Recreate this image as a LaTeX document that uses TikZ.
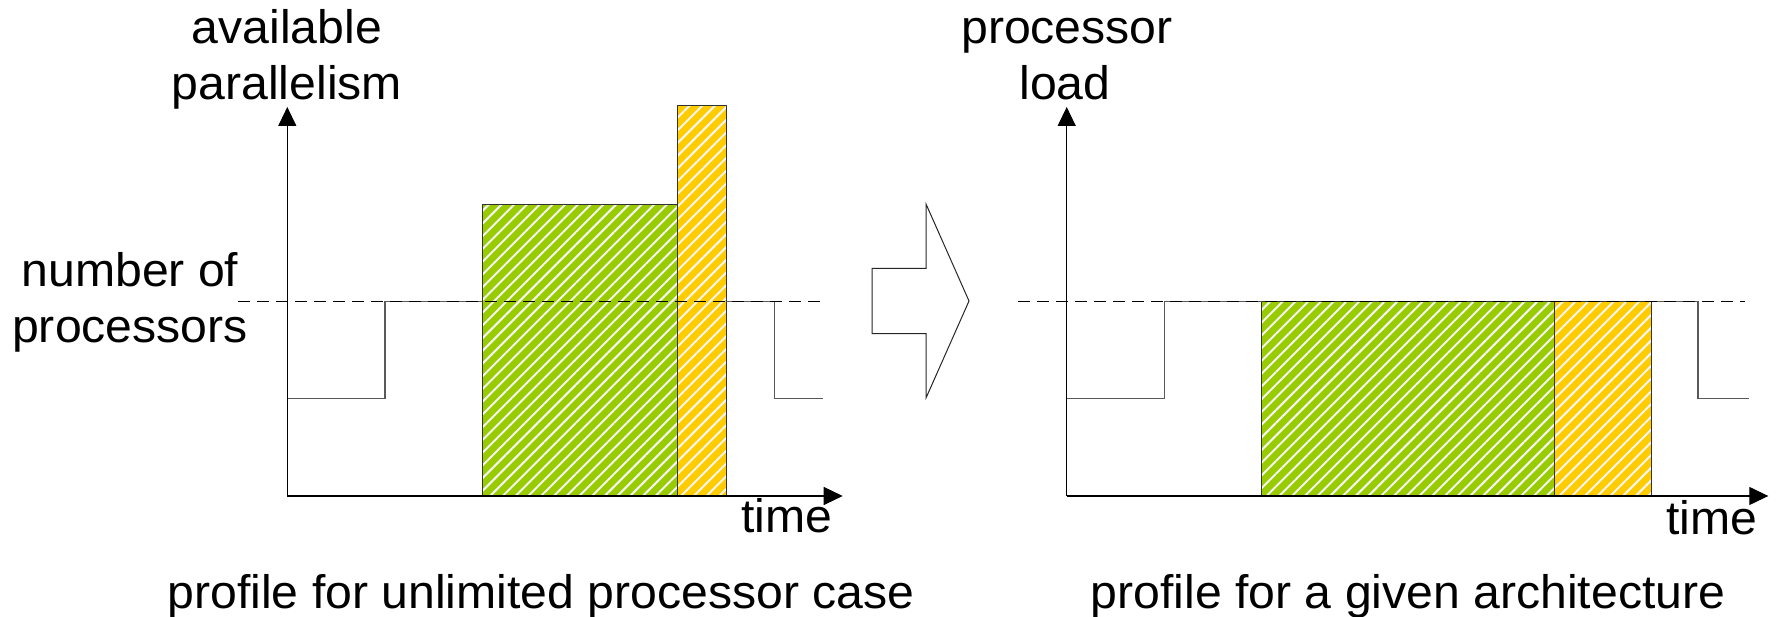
\documentclass[tikz,border=0pt]{standalone}
\usepackage{fontspec}
\setmainfont[FakeStretch=1.025]{Liberation Sans}
\usetikzlibrary{arrows.meta,patterns.meta}
\definecolor{hgreen}{HTML}{99CC00}
\definecolor{horange}{HTML}{FFCC00}
\newcommand\hatchrect[3]{%
  \fill[#1] #2 rectangle #3;
  \fill[hatch] #2 rectangle #3;
  \draw[box] #2 rectangle #3;}
\begin{document}
\begin{tikzpicture}[x=1pt,y=1pt,
  lbl/.style={font=\fontsize{47}{56}\selectfont, inner sep=0pt, anchor=base},
  axis/.style={line width=1.3pt, draw=black, -{Triangle[length=19pt,width=18pt]}},
  stepline/.style={line width=1.3pt, draw=black!65},
  limit/.style={line width=1pt, draw=black, dash pattern=on 12pt off 7pt},
  box/.style={draw=black!80, line width=1pt},
  hatch/.style={pattern={Lines[angle=45,distance=9pt,line width=2pt]}, pattern color=white!92!gray}]
\useasboundingbox (0,0) rectangle (1777,617);

% ---------- left panel ----------
\coordinate (o1) at (287.3,121);
\coordinate (y1) at (287.3,510);
\coordinate (x1) at (842.7,121);
\hatchrect{hgreen}{(482.3,121)}{(677.3,412.7)}
\hatchrect{horange}{(677.3,121)}{(726,511)}
\coordinate (dl1) at (238,315.7);
\coordinate (dr1) at (823,315.7);
\draw[stepline] (287.3,218.3) -- (385,218.3) -- (385,315.7) -- (482.3,315.7);
\draw[stepline] (726,315.7) -- (774.7,315.7) -- (774.7,218.3) -- (823.3,218.3);
\draw[limit] (dl1) -- (dr1);
\draw[axis] (o1) -- (y1);
\draw[axis] (o1) -- (x1);

\node[lbl] (av) at (287,573) {available};
\node[lbl] (par) at (287,517) {parallelism};
\node[lbl] (num) at (130,330) {number of};
\node[lbl] (proc) at (130,274) {processors};
\node[lbl] (t1) at (787,84) {time};
\node[lbl] (cap1) at (541,8) {profile for unlimited processor case};

% ---------- block arrow ----------
\draw[line width=1pt, draw=black!85, line join=miter]
  (872,348.7) -- (926,348.7) -- (926,413) -- (969,316) -- (926,219)
  -- (926,283.3) -- (872,283.3) -- cycle;

% ---------- right panel ----------
\coordinate (o2) at (1066.7,121);
\coordinate (y2) at (1066.7,510);
\coordinate (x2) at (1768.3,121);
\hatchrect{hgreen}{(1261.7,121)}{(1554,315.7)}
\hatchrect{horange}{(1554,121)}{(1651.7,315.7)}
\coordinate (dl2) at (1018,315.7);
\coordinate (dr2) at (1745,315.7);
\draw[stepline] (1066.7,218.3) -- (1164.3,218.3) -- (1164.3,315.7) -- (1261.7,315.7);
\draw[stepline] (1651.7,315.7) -- (1698,315.7) -- (1698,218.3) -- (1749.3,218.3);
\draw[limit] (dl2) -- (dr2);
\draw[axis] (o2) -- (y2);
\draw[axis] (o2) -- (x2);

\node[lbl] (pl) at (1067,573) {processor};
\node[lbl] (ld) at (1065,517) {load};
\node[lbl] (t2) at (1712,82) {time};
\node[lbl] (cap2) at (1408,8) {profile for a given architecture};
\end{tikzpicture}
\end{document}
